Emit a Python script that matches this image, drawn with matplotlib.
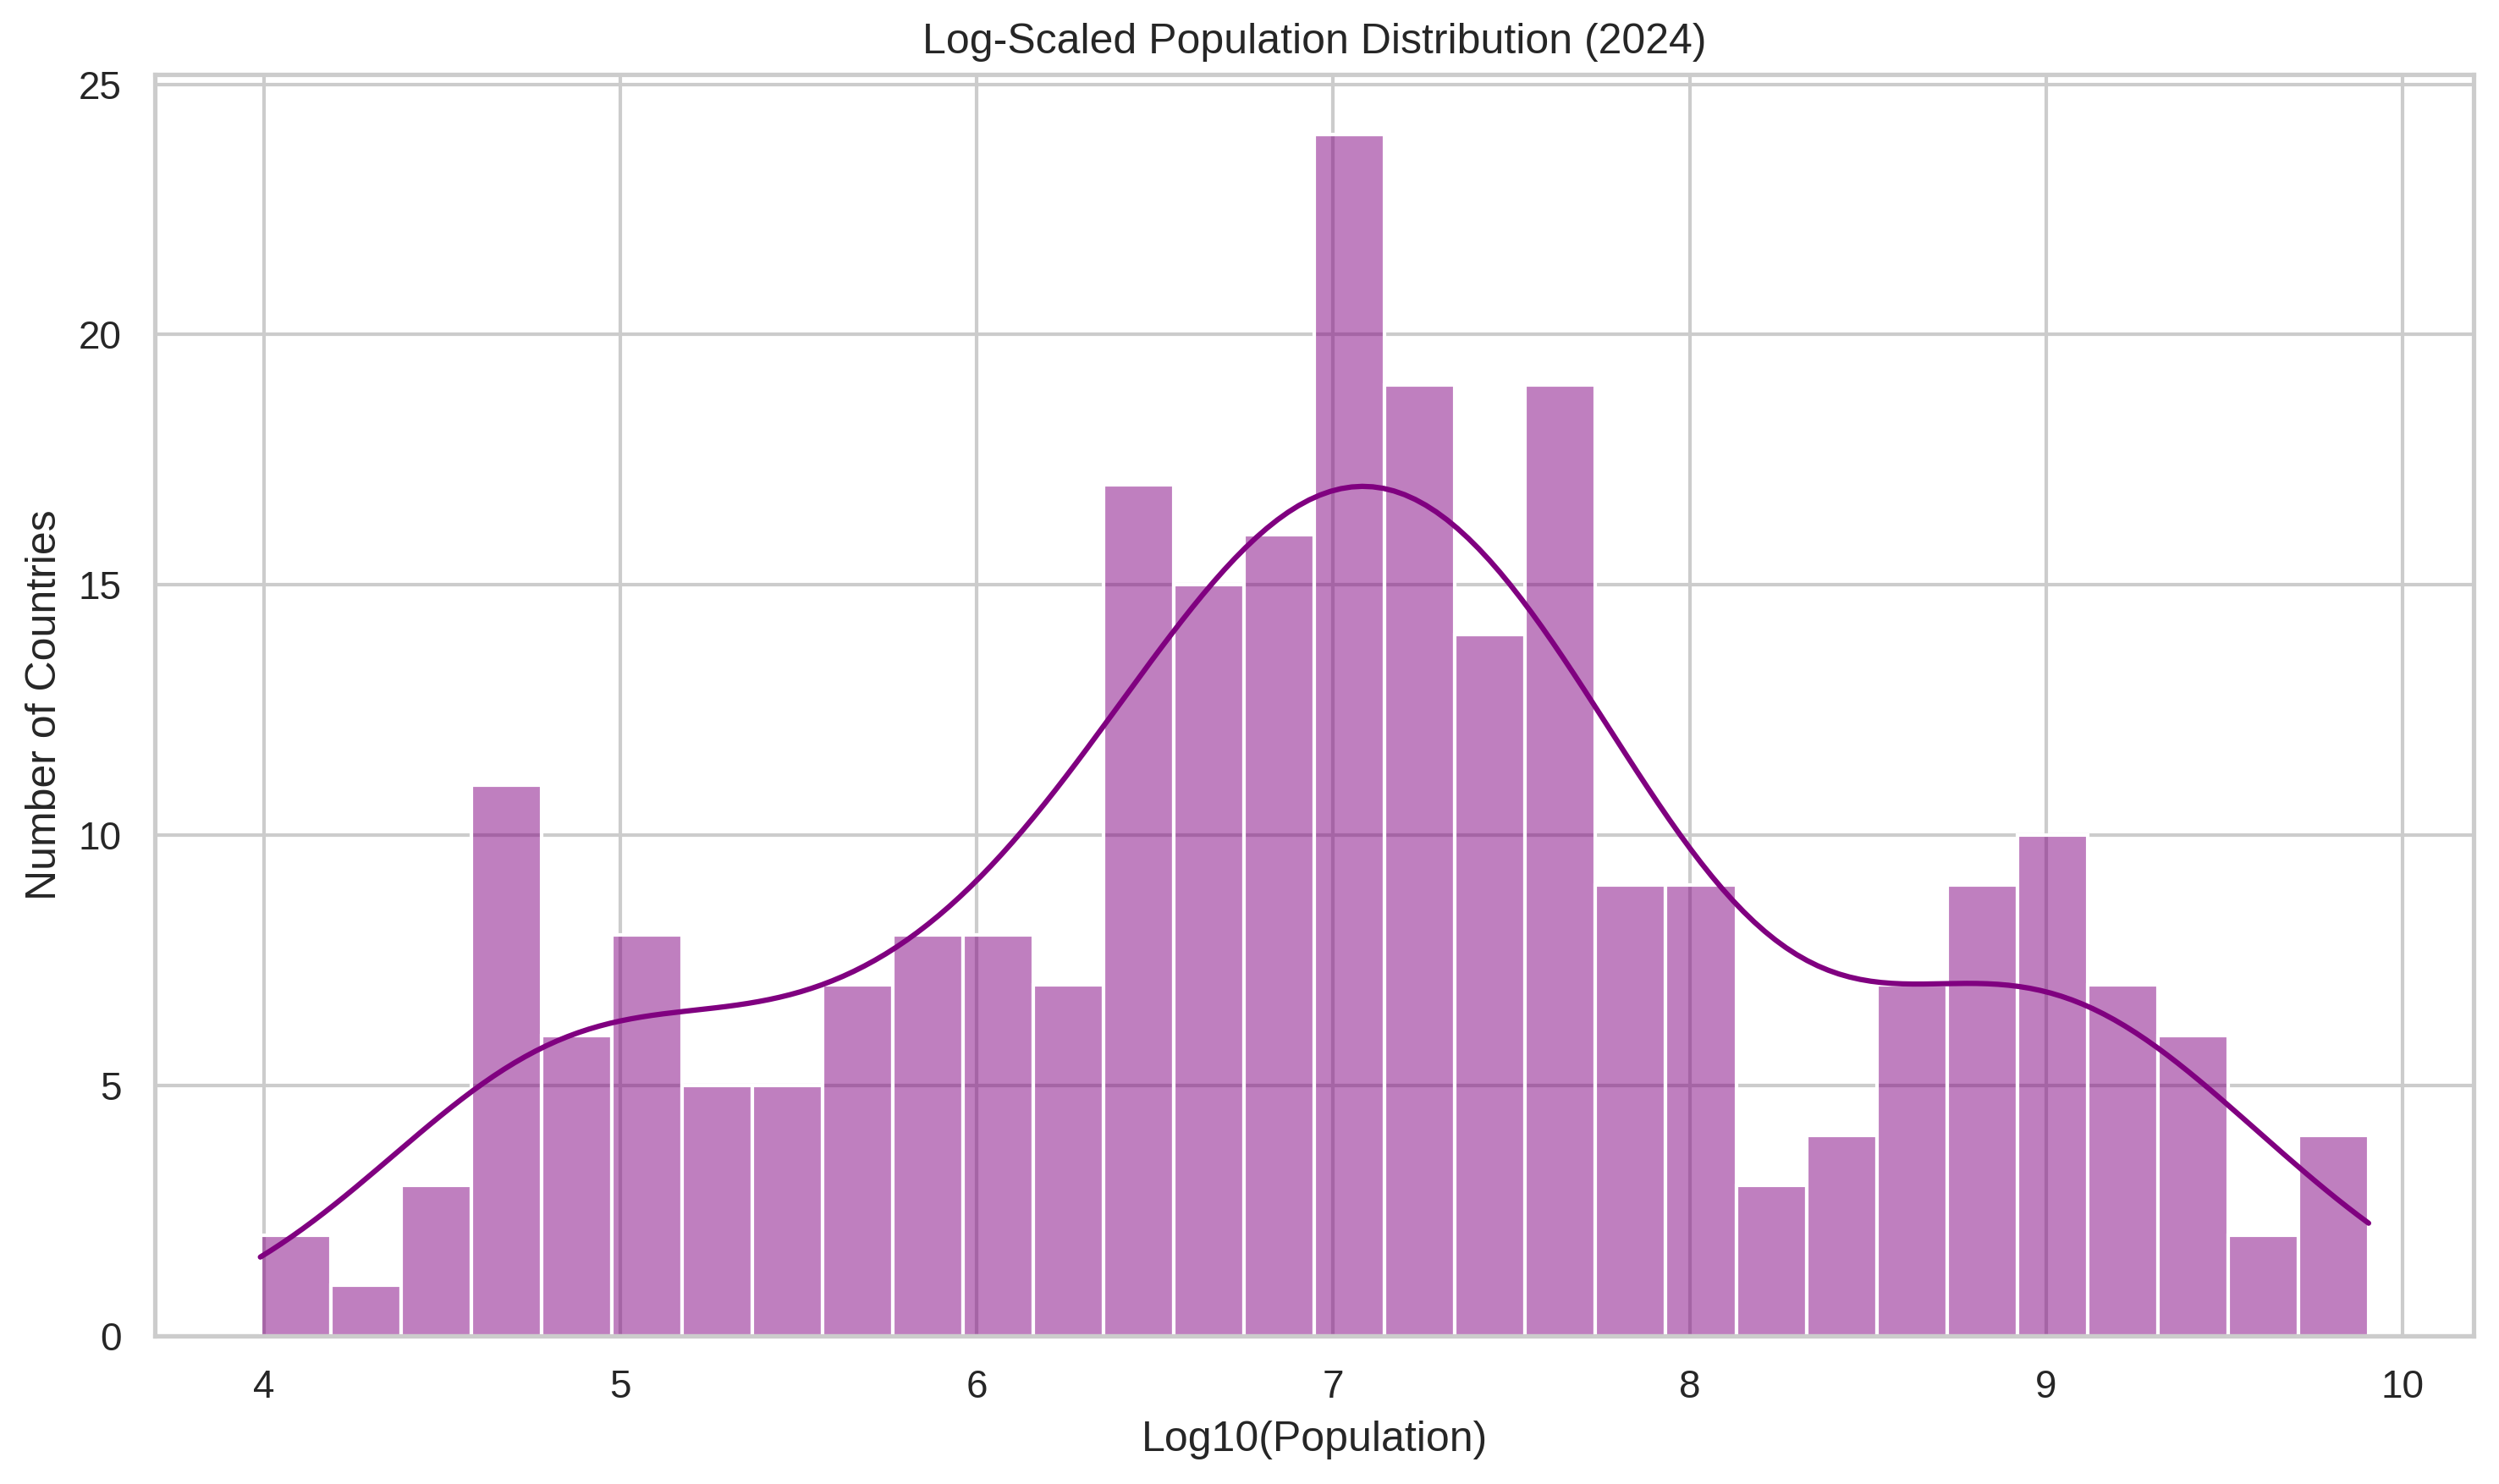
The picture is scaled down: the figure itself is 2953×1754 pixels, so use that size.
import numpy as np
import matplotlib
matplotlib.use("Agg")
import matplotlib.pyplot as plt
import seaborn as sns

# histogram: 30 bins over log10(population)
bin_lo = 3.99
bin_hi = 9.905
counts = [2, 1, 3, 11, 6, 8, 5, 5, 7, 8,
          8, 7, 17, 15, 16, 24, 19, 14, 19, 9,
          9, 3, 4, 7, 9, 10, 7, 6, 2, 4]

# one sample per country at its bin centre
width = (bin_hi - bin_lo) / len(counts)
centers = bin_lo + width * (np.arange(len(counts)) + 0.5)
log_pop = np.repeat(centers, counts)

sns.set_theme(style="whitegrid")
plt.rcParams['font.family'] = ['Arial', 'Liberation Sans', 'DejaVu Sans']

fig, ax = plt.subplots(figsize=(2953 / 300, 1754 / 300), dpi=300)
sns.histplot(log_pop, bins=len(counts), binrange=(bin_lo, bin_hi), kde=True,
             color='purple', kde_kws={'cut': 3, 'clip': (bin_lo, bin_hi)}, ax=ax)

ax.set_title('Log-Scaled Population Distribution (2024)')
ax.set_xlabel('Log10(Population)')
ax.set_ylabel('Number of Countries')

fig.subplots_adjust(left=0.062, right=0.99, bottom=0.1, top=0.95)
fig.savefig('out.png', dpi=300)
